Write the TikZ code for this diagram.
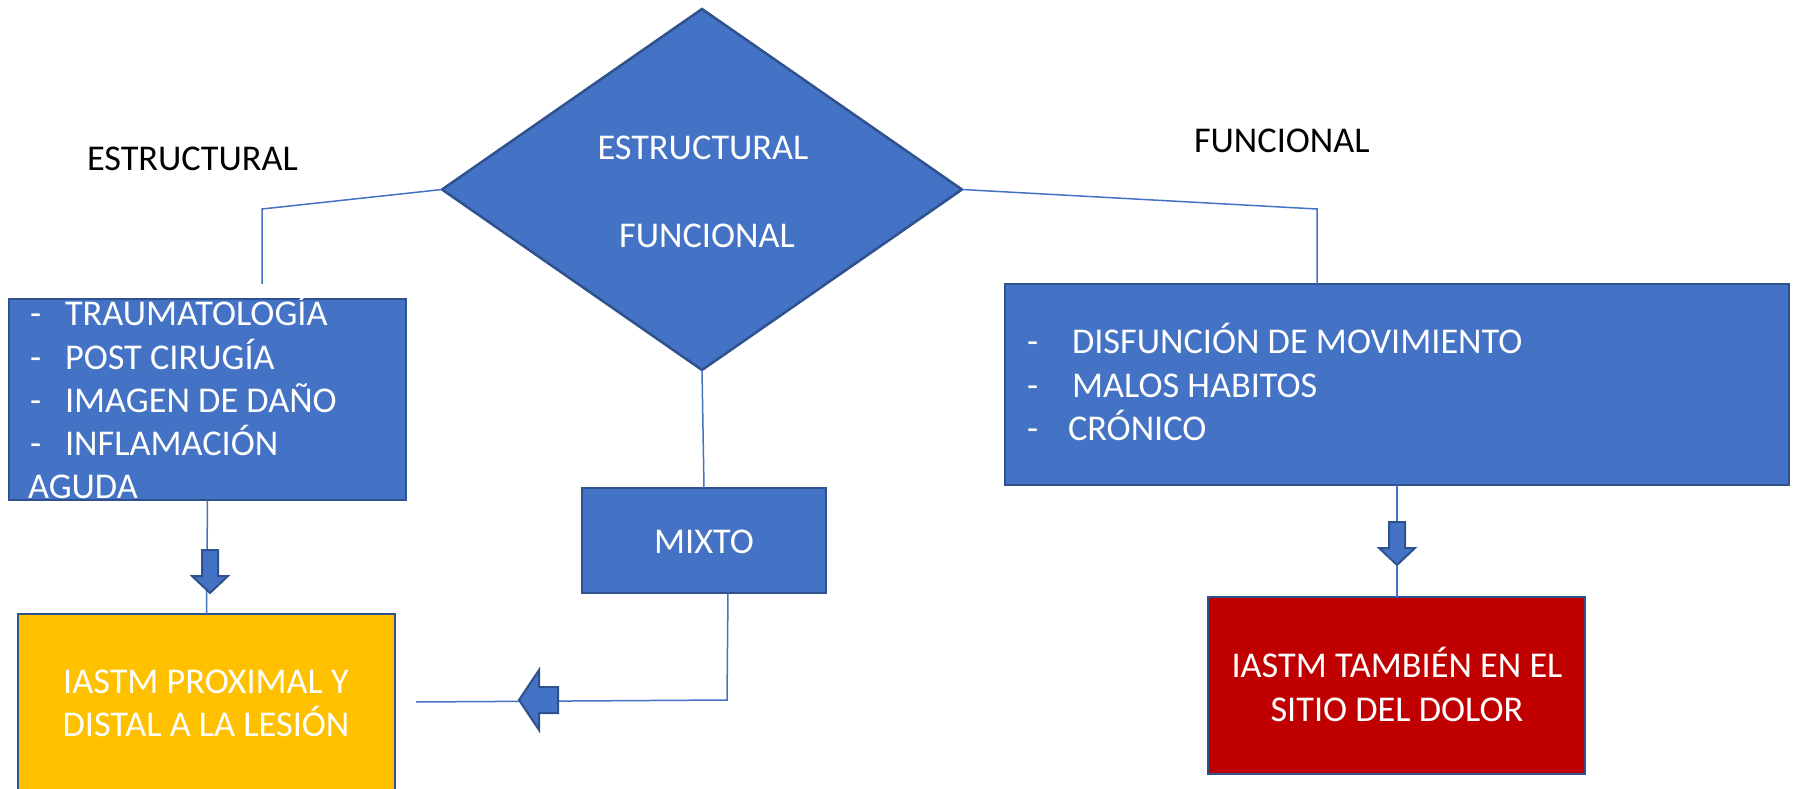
\documentclass[tikz,border=0pt]{standalone}
\usepackage{fontspec}
\setmainfont{Carlito}
\usetikzlibrary{shapes.geometric}
\definecolor{fillblue}{HTML}{4472C4}
\definecolor{edgeblue}{HTML}{2F528F}
\definecolor{goldfill}{HTML}{FFC000}
\definecolor{redfill}{HTML}{C00000}
\begin{document}
\begin{tikzpicture}[x=1pt,y=-1pt,
  box/.style={draw=edgeblue, line width=2.5pt, fill=fillblue, rectangle, inner sep=0pt, outer sep=0pt},
  dia/.style={draw=edgeblue, line width=2.5pt, fill=fillblue, diamond, inner sep=0pt, outer sep=0pt},
  txt/.style={inner sep=0pt, outer sep=0pt, font=\fontsize{36.3}{43}\selectfont, text=white},
  blk/.style={txt, text=black},
  conn/.style={draw=fillblue, line width=1.5pt},
  blockarrow/.style={draw=edgeblue, line width=2pt, fill=fillblue, line join=miter}]
\useasboundingbox (0,0) rectangle (1796,789);

\coordinate (lcorner) at (262,209);
\coordinate (lend) at (262,284);
\coordinate (rcorner) at (1317,209);
\coordinate (mcorner) at (727,700);
\coordinate (mend) at (416,702);

% shapes
\node[dia, minimum width=520pt, minimum height=361pt] (dia) at (702,189.5) {};
\node[box, minimum width=397pt, minimum height=201pt] (lbox) at (207.5,399.5) {};
\node[box, minimum width=784pt, minimum height=201pt] (rbox) at (1397,384.5) {};
\node[box, minimum width=244pt, minimum height=105pt] (mixto) at (704,540.5) {};
\node[box, fill=goldfill, minimum width=377pt, minimum height=200pt] (ybox) at (206.5,714) {};
\node[box, fill=redfill, minimum width=377pt, minimum height=177pt] (rdbox) at (1396.5,685.5) {};

\draw[conn] (dia.west) -- (lcorner) -- (lend);
\draw[conn] (dia.east) -- (rcorner) -- (rcorner |- rbox.north);
\draw[conn] (dia.south) -- (mixto.north);
\draw[conn] (lbox.south) -- (ybox.north);
\draw[conn] (rbox.south) -- (rbox.south |- rdbox.north);
\draw[conn] ([xshift=24pt]mixto.south) -- (mcorner) -- (mend);

% block arrows
\draw[blockarrow] (202,550) -- (218,550) -- (218,576) -- (228,576) -- (210,593) -- (192,576) -- (202,576) -- cycle;
\draw[blockarrow] (1389,522) -- (1405,522) -- (1405,548) -- (1415,548) -- (1397,565) -- (1379,548) -- (1389,548) -- cycle;
\draw[blockarrow] (558,687) -- (558,713) -- (539,713) -- (539,730) -- (519,700) -- (539,670) -- (539,687) -- cycle;

% texts
\node[blk, anchor=base west] (lblEst) at (87,170) {ESTRUCTURAL};
\node[blk, anchor=base west] (lblFun) at (1194,153) {FUNCIONAL};
\node[txt, anchor=base] (dEst) at (703,159) {ESTRUCTURAL};
\node[txt, anchor=base] (dFun) at (707,247) {FUNCIONAL};

\node[txt, anchor=base west] (l1d) at (30,325) {-};
\node[txt, anchor=base west] (l1) at (65,325) {TRAUMATOLOGÍA};
\node[txt, anchor=base west] (l2d) at (30,369) {-};
\node[txt, anchor=base west] (l2) at (65,369) {POST CIRUGÍA};
\node[txt, anchor=base west] (l3d) at (30,412) {-};
\node[txt, anchor=base west] (l3) at (65,412) {IMAGEN DE DAÑO};
\node[txt, anchor=base west] (l4d) at (30,455) {-};
\node[txt, anchor=base west] (l4) at (65,455) {INFLAMACIÓN};
\node[txt, anchor=base west] (l5) at (28,498) {AGUDA};

\node[txt, anchor=base west] (r1d) at (1027,353) {-};
\node[txt, anchor=base west] (r1) at (1072,353) {DISFUNCIÓN DE MOVIMIENTO};
\node[txt, anchor=base west] (r2d) at (1027,397) {-};
\node[txt, anchor=base west] (r2) at (1072,397) {MALOS HABITOS};
\node[txt, anchor=base west] (r3d) at (1027,440) {-};
\node[txt, anchor=base west] (r3) at (1068,440) {CRÓNICO};

\node[txt, anchor=base] (mtxt) at (704,553) {MIXTO};
\node[txt, anchor=base] (y1) at (206,693) {IASTM PROXIMAL Y};
\node[txt, anchor=base] (y2) at (206,736) {DISTAL A LA LESIÓN};
\node[txt, anchor=base] (rd1) at (1397,677) {IASTM TAMBIÉN EN EL};
\node[txt, anchor=base] (rd2) at (1397,721) {SITIO DEL DOLOR};
\end{tikzpicture}
\end{document}
